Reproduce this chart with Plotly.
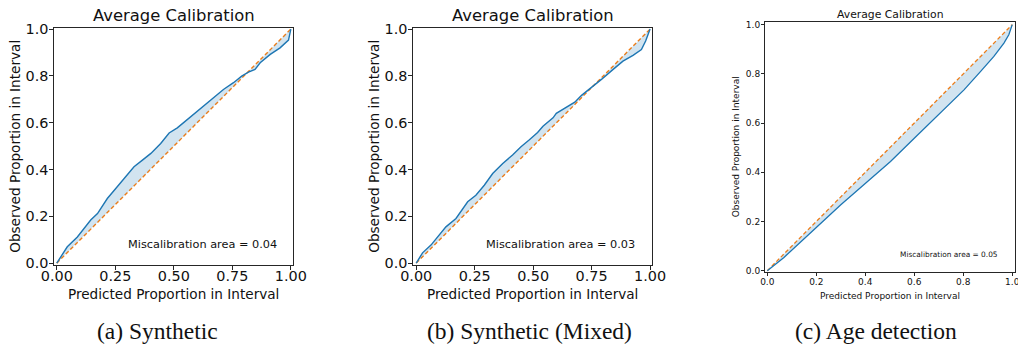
import plotly.graph_objects as go

W, H = 1018, 348

# ---------------- data ----------------
a_pred = [0, 0.045, 0.088, 0.145, 0.174, 0.216, 0.252, 0.295, 0.33, 0.366, 0.402, 0.444,
          0.48, 0.515, 0.584, 0.627, 0.669, 0.712, 0.755, 0.79, 0.819, 0.847, 0.869,
          0.912, 0.954, 0.99, 1.0]
a_obs = [0, 0.07, 0.112, 0.184, 0.212, 0.276, 0.319, 0.369, 0.412, 0.44, 0.469, 0.511,
         0.556, 0.578, 0.635, 0.671, 0.706, 0.742, 0.771, 0.799, 0.816, 0.828, 0.856,
         0.892, 0.92, 0.953, 1.0]

b_pred = [0, 0.027, 0.063, 0.091, 0.127, 0.17, 0.22, 0.255, 0.291, 0.327, 0.37, 0.412,
          0.448, 0.484, 0.519, 0.542, 0.585, 0.599, 0.642, 0.678, 0.707, 0.749, 0.792,
          0.842, 0.884, 0.927, 0.963, 0.981, 1.0]
b_obs = [0, 0.044, 0.077, 0.112, 0.155, 0.191, 0.262, 0.29, 0.333, 0.383, 0.426, 0.462,
         0.497, 0.527, 0.558, 0.585, 0.621, 0.64, 0.668, 0.688, 0.717, 0.749, 0.785,
         0.828, 0.863, 0.888, 0.913, 0.949, 1.0]

c_pred = [0, 0.068, 0.2, 0.299, 0.401, 0.503, 0.601, 0.707, 0.803, 0.871, 0.925, 0.966, 0.986, 1.0]
c_obs = [0, 0.054, 0.176, 0.267, 0.355, 0.444, 0.539, 0.64, 0.735, 0.81, 0.871, 0.925, 0.959, 1.0]

ideal = [0, 1]

ticks_ab = [0, 0.25, 0.5, 0.75, 1.0]
ticks_ab_text = ["0.00", "0.25", "0.50", "0.75", "1.00"]
ticks_c = [0, 0.2, 0.4, 0.6, 0.8, 1.0]
ticks_c_text = ["0.0", "0.2", "0.4", "0.6", "0.8", "1.0"]
ticks_y = [0, 0.2, 0.4, 0.6, 0.8, 1.0]
ticks_y_text = ["0.0", "0.2", "0.4", "0.6", "0.8", "1.0"]

titles = ["Average Calibration", "Average Calibration", "Average Calibration"]
misc_texts = ["Miscalibration area = 0.04", "Miscalibration area = 0.03", "Miscalibration area = 0.05"]
captions = ["(a) Synthetic", "(b) Synthetic (Mixed)", "(c) Age detection"]
xlabel = "Predicted Proportion in Interval"
ylabel = "Observed Proportion in Interval"

BLUE = "#1f77b4"
ORANGE = "#ff7f0e"
FILL = "rgba(31,119,180,0.2)"
FRAME = "#262626"


def px(x):
    return x / W


def py(y):
    return 1 - y / H


fig = go.Figure()

panels = [
    dict(pred=a_pred, obs=a_obs, xd=(54.3, 293.3), yd=(27.7, 265.0),
         xr=[-0.0105, 1.0105], yr=[-0.008, 1.006], xt=ticks_ab, xtt=ticks_ab_text,
         fs=14.4, lfs=13.6, tfs=16.4, mfs=11.3, lw=1.4, dlw=1.4, tl=4, xso=-6, yso=-2,
         title_xy=(173.8, 15.5), xl_xy=(173.8, 293.5), yl_xy=(15.5, 146.3),
         misc_xy=(278.5, 244.5), cap_xy=(157.5, 331)),
    dict(pred=b_pred, obs=b_obs, xd=(413.3, 652.3), yd=(27.7, 265.0),
         xr=[-0.0125, 1.0095], yr=[-0.008, 1.006], xt=ticks_ab, xtt=ticks_ab_text,
         fs=14.4, lfs=13.6, tfs=16.4, mfs=11.3, lw=1.4, dlw=1.4, tl=4, xso=-6, yso=-2,
         title_xy=(532.8, 15.5), xl_xy=(532.5, 293.5), yl_xy=(374.5, 146.3),
         misc_xy=(637.0, 244.5), cap_xy=(529, 331)),
    dict(pred=c_pred, obs=c_obs, xd=(765.0, 1014.7), yd=(21.7, 272.3),
         xr=[-0.0094, 1.01], yr=[-0.0065, 1.012], xt=ticks_c, xtt=ticks_c_text,
         fs=9.0, lfs=9.0, tfs=10.8, mfs=7.4, lw=1.3, dlw=1.3, tl=3, xso=-2, yso=-1,
         title_xy=(890.0, 14.0), xl_xy=(890.0, 295.5), yl_xy=(736.3, 147.0),
         misc_xy=(1000.0, 254.3), cap_xy=(876, 331)),
]

annotations = []
layout_axes = {}
for i, p in enumerate(panels):
    n = i + 1
    xa = "x" if n == 1 else f"x{n}"
    ya = "y" if n == 1 else f"y{n}"
    # ideal line
    fig.add_trace(go.Scatter(x=ideal, y=ideal, mode="lines", xaxis=xa, yaxis=ya,
                             line=dict(color=ORANGE, width=p["dlw"], dash="4px,2.4px"),
                             showlegend=False, hoverinfo="skip"))
    # calibration curve
    fig.add_trace(go.Scatter(x=p["pred"], y=p["obs"], mode="lines", xaxis=xa, yaxis=ya,
                             line=dict(color=BLUE, width=p["lw"]),
                             showlegend=False))
    # fill between curve and ideal
    fx = list(p["pred"]) + list(reversed(p["pred"]))
    fy = list(p["obs"]) + list(reversed(p["pred"]))
    fig.add_trace(go.Scatter(x=fx, y=fy, mode="lines", xaxis=xa, yaxis=ya,
                             fill="toself", fillcolor=FILL, line=dict(width=0),
                             showlegend=False, hoverinfo="skip"))

    axis_common = dict(showgrid=False, zeroline=False, showline=True, mirror=True,
                       linecolor=FRAME, linewidth=1, ticks="outside", ticklen=p["tl"],
                       tickwidth=1, tickcolor=FRAME, automargin=False,
                       ticklabeloverflow="allow",
                       tickfont=dict(family="DejaVu Sans", size=p["fs"], color="#111"))
    layout_axes["xaxis" if n == 1 else f"xaxis{n}"] = dict(
        axis_common, domain=[px(p["xd"][0]), px(p["xd"][1])], range=p["xr"],
        tickvals=p["xt"], ticktext=p["xtt"], anchor=ya, ticklabelstandoff=p["xso"])
    layout_axes["yaxis" if n == 1 else f"yaxis{n}"] = dict(
        axis_common, domain=[py(p["yd"][1]), py(p["yd"][0])], range=p["yr"],
        tickvals=ticks_y, ticktext=ticks_y_text, anchor=xa, ticklabelstandoff=p["yso"])

    annotations.append(dict(text=titles[i], x=px(p["title_xy"][0]), y=py(p["title_xy"][1]),
                            xref="paper", yref="paper", xanchor="center", yanchor="middle",
                            showarrow=False, font=dict(family="DejaVu Sans", size=p["tfs"], color="#111")))
    annotations.append(dict(text=xlabel, x=px(p["xl_xy"][0]), y=py(p["xl_xy"][1]),
                            xref="paper", yref="paper", xanchor="center", yanchor="middle",
                            showarrow=False, font=dict(family="DejaVu Sans", size=p["lfs"], color="#111")))
    annotations.append(dict(text=ylabel, x=px(p["yl_xy"][0]), y=py(p["yl_xy"][1]),
                            xref="paper", yref="paper", xanchor="center", yanchor="middle",
                            textangle=-90,
                            showarrow=False, font=dict(family="DejaVu Sans", size=p["lfs"], color="#111")))
    annotations.append(dict(text=misc_texts[i], x=px(p["misc_xy"][0]), y=py(p["misc_xy"][1]),
                            xref="paper", yref="paper", xanchor="right", yanchor="middle",
                            showarrow=False, font=dict(family="DejaVu Sans", size=p["mfs"], color="#111")))
    annotations.append(dict(text=captions[i], x=px(p["cap_xy"][0]), y=py(p["cap_xy"][1]),
                            xref="paper", yref="paper", xanchor="center", yanchor="middle",
                            showarrow=False, font=dict(family="Liberation Serif", size=23.5, color="#111")))

fig.update_layout(
    width=W, height=H,
    margin=dict(l=0, r=0, t=0, b=0, pad=0, autoexpand=False),
    paper_bgcolor="white", plot_bgcolor="white",
    showlegend=False,
    annotations=annotations,
    **layout_axes,
)

fig.write_html(
    "out.html",
    config={"displayModeBar": False},
    default_width=f"{W}px", default_height=f"{H}px",
    post_script="document.body.style.margin='0';document.body.style.padding='0';"
                "document.documentElement.style.overflow='hidden';",
)
